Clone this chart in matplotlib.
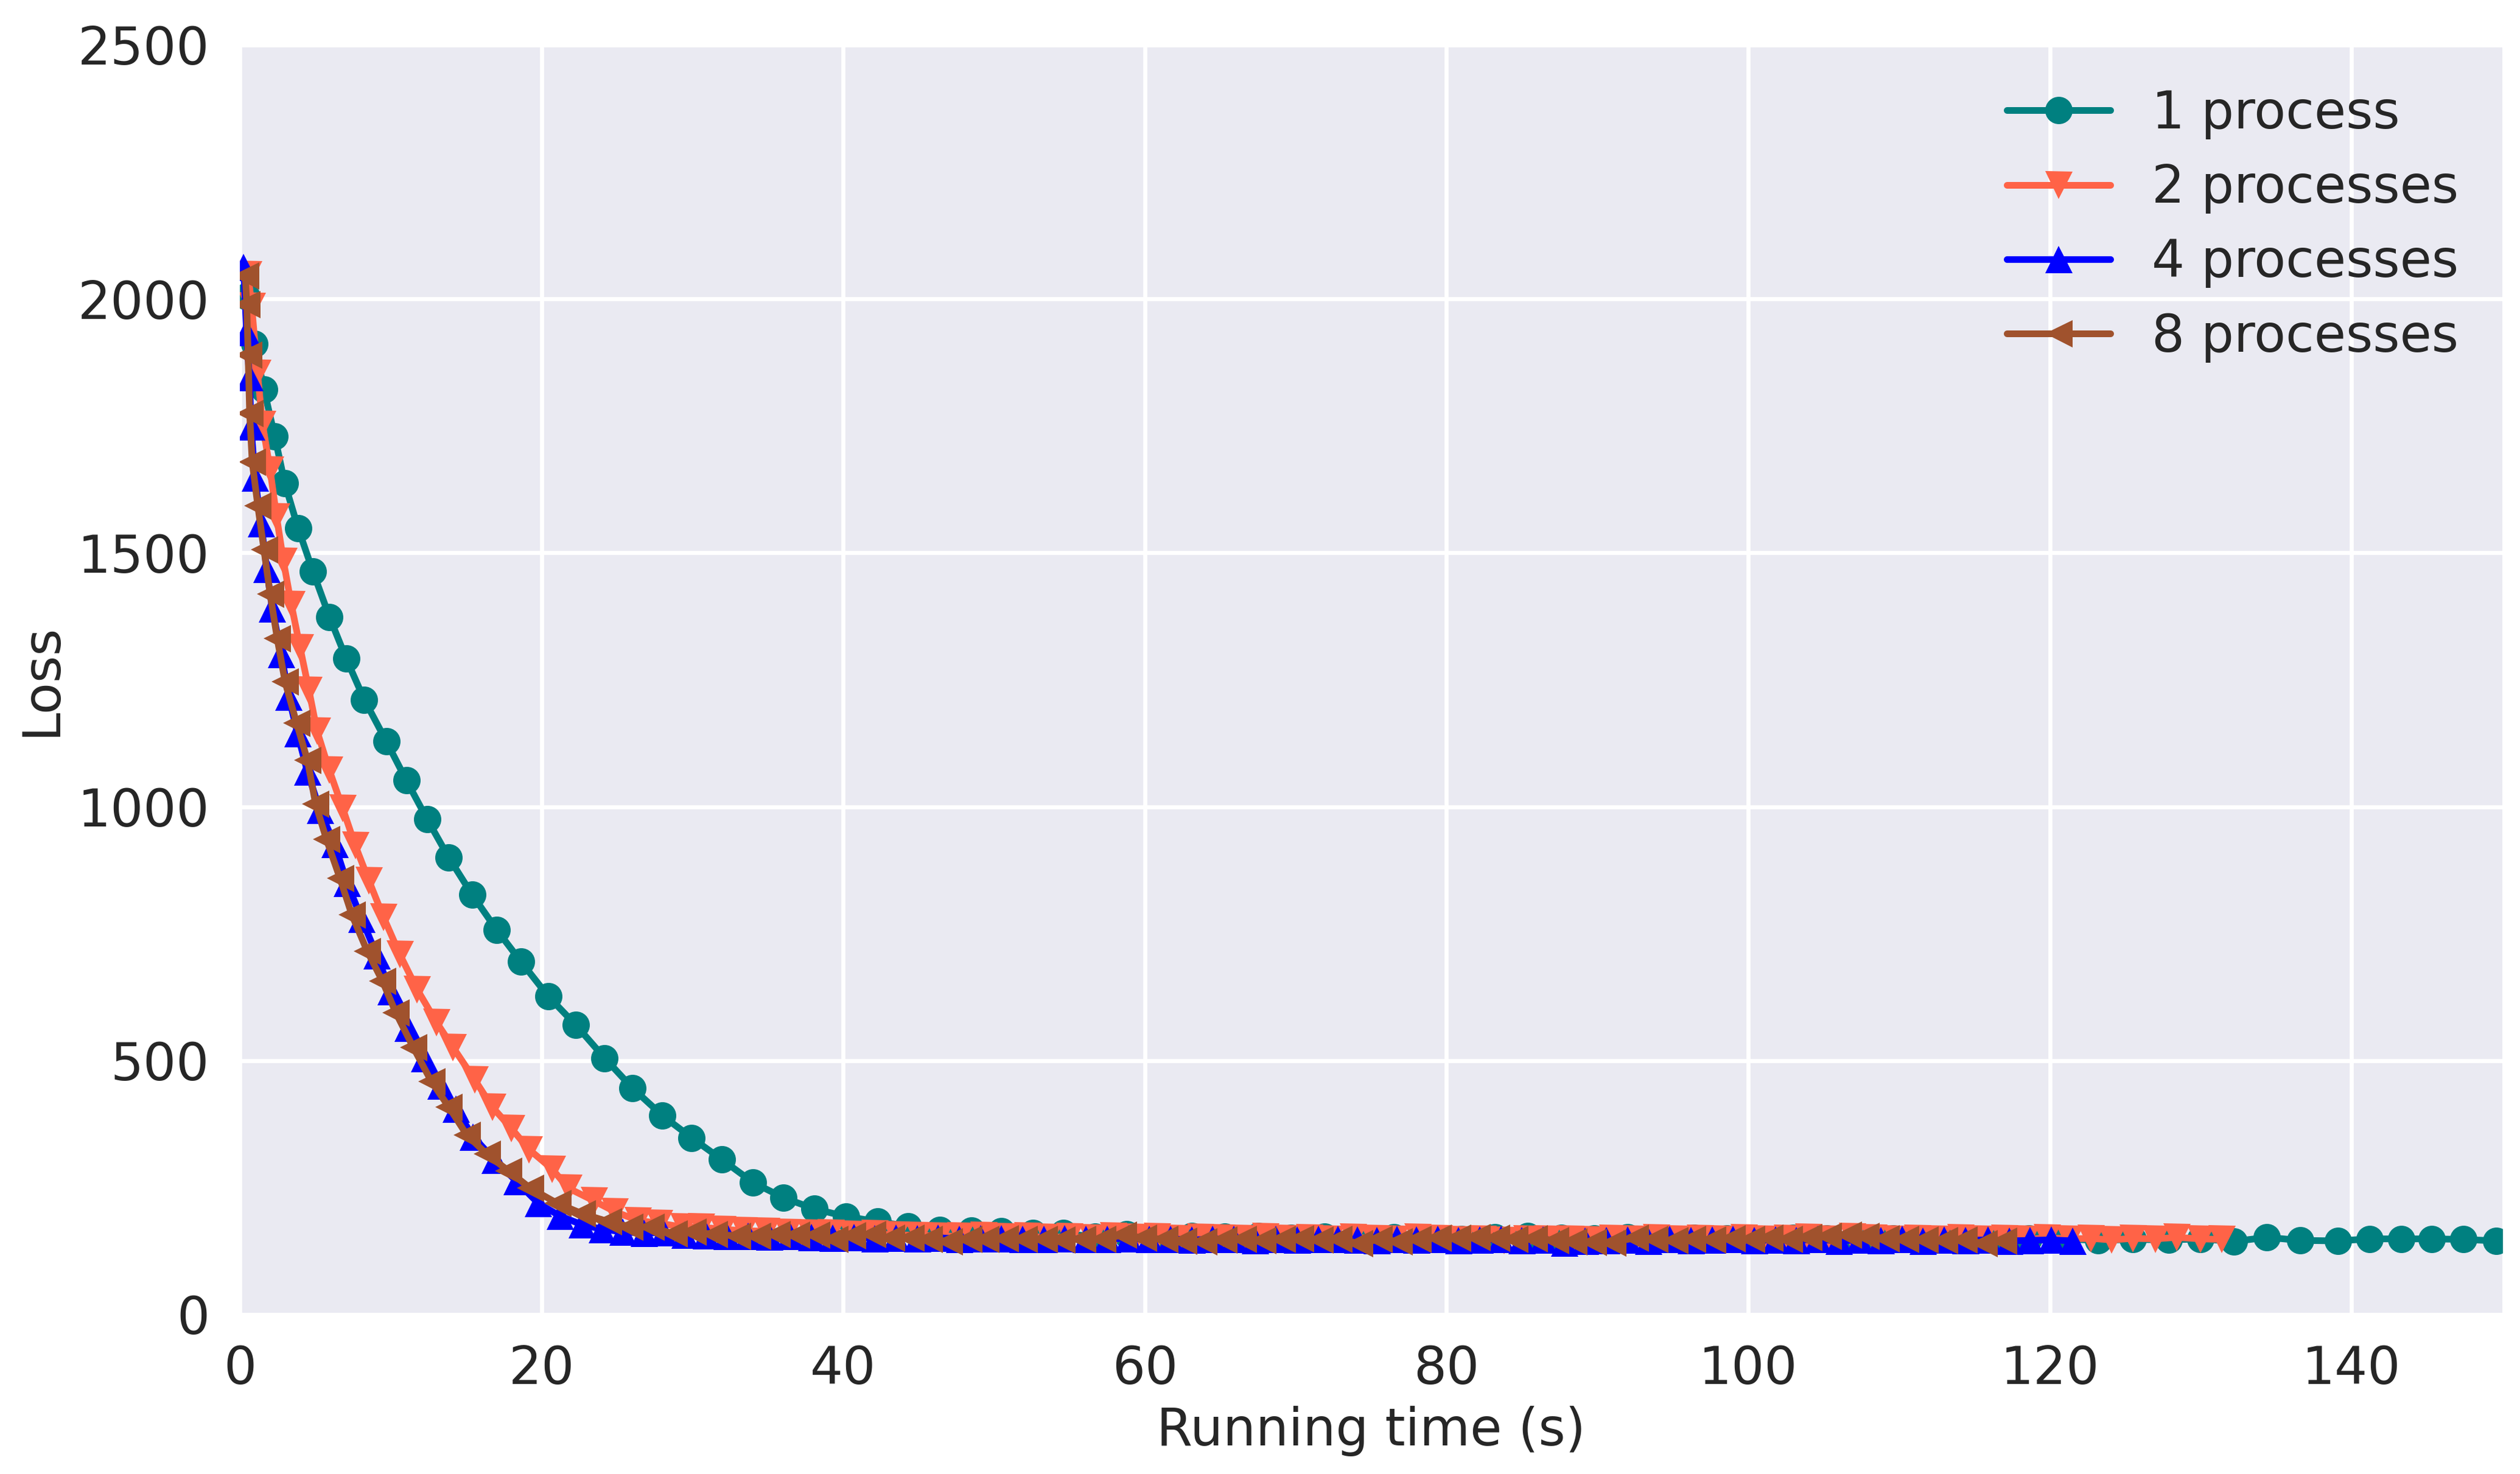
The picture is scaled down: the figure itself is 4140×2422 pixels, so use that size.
import numpy as np
import matplotlib
matplotlib.use("Agg")
import matplotlib.pyplot as plt

# 1 process
t1 = [0.45, 0.98, 1.60, 2.32, 2.98, 3.86, 4.85, 5.94, 7.05, 8.25,
      9.71, 11.04, 12.41, 13.85, 15.40, 17.02, 18.64, 20.44, 22.28, 24.19,
      26.03, 28.01, 29.96, 31.97, 34.03, 36.05, 38.10, 40.20, 42.30, 44.30,
      46.40, 48.50, 50.50, 52.60, 54.60,
      56.70, 58.80, 60.90, 63.10, 65.30, 67.50, 69.70, 71.90, 74.20, 76.50,
      78.70, 81.00, 83.20, 85.40, 87.60, 89.80, 92.00, 94.20, 96.40, 98.60,
      100.8, 103.0, 105.2, 107.4, 109.6, 111.8, 114.0, 116.3, 118.6, 120.9,
      123.2, 125.5, 127.9, 130.0, 132.2, 134.4, 136.6, 139.1, 141.2, 143.3,
      145.3, 147.4, 149.6]
loss1 = [2005, 1911, 1822, 1729, 1637, 1549, 1463, 1374, 1292, 1211,
         1129, 1052, 976, 900, 827, 758, 695, 627, 570, 505,
         446, 392, 348, 305, 260, 230, 208, 193, 183, 174,
         166, 165, 164, 160, 160,
         153, 158, 152, 155, 153, 154, 151, 153, 149, 152,
         150, 149, 152, 155, 151, 150, 152, 148, 151, 150,
         149, 151, 150, 148, 150, 149, 151, 148, 150, 149,
         146, 148, 147, 149, 144, 152, 146, 145, 149, 149,
         149, 148, 145]

# 2 processes
t2 = [0.55, 0.79, 1.17, 1.51, 2.01, 2.44, 2.89, 3.41, 3.99, 4.58,
      5.12, 5.92, 6.82, 7.65, 8.55, 9.52, 10.61, 11.76, 13.05, 14.14,
      15.58, 16.73, 17.99, 19.18, 20.69, 21.78, 23.47, 24.84, 26.40, 27.80,
      29.40, 30.60,
      32.0, 33.4, 34.9, 36.3, 37.8, 39.2, 40.6, 42.1, 43.5, 45.0,
      46.4, 47.8, 49.3, 50.7, 52.2, 53.6, 55.0, 56.5, 57.9, 59.4,
      60.8, 62.2, 63.7, 65.1, 66.6, 68.0, 69.4, 70.9, 72.3, 73.8,
      75.2, 76.6, 78.1, 79.5, 81.0, 82.4, 83.8, 85.3, 86.7, 88.2,
      89.6, 91.0, 92.5, 93.9, 95.4, 96.8, 98.2, 99.7, 101.1, 102.6,
      104.0, 105.4, 106.9, 108.3, 109.8, 111.2, 112.6, 114.1, 115.5, 117.0,
      118.4, 119.8, 121.3, 122.7, 124.1, 125.5, 127.0, 128.4, 130.0, 131.4]
loss2 = [2048, 1986, 1854, 1753, 1663, 1571, 1484, 1399, 1314, 1230,
         1149, 1073, 997, 924, 855, 783, 709, 640, 575, 526,
         462, 409, 367, 325, 287, 249, 224, 203, 185, 180,
         172, 172,
         168, 165, 164, 162, 161, 160, 158, 159, 157, 156,
         155, 154, 156, 153, 154, 152, 153, 151, 154, 152,
         153, 150, 152, 151, 150, 153, 150, 151, 149, 152,
         150, 148, 152, 150, 147, 149, 146, 148, 149, 148,
         147, 150, 149, 151, 148, 150, 149, 151, 148, 150,
         152, 149, 153, 151, 149, 150, 148, 151, 149, 150,
         148, 151, 149, 150, 147, 150, 149, 152, 149, 148]

# 4 processes
t4 = [0.25, 0.45, 0.63, 0.75, 1.00, 1.41, 1.78, 2.15, 2.75, 3.24,
      3.83, 4.48, 5.31, 6.28, 7.11, 8.08, 9.09, 9.99, 11.14, 12.23,
      13.31, 14.32, 15.47, 16.91, 18.35, 19.79, 21.23, 22.68, 24.0, 25.4,
      26.8, 28.1, 29.5,
      30.9, 32.3, 33.7, 35.1, 36.5, 37.9, 39.3, 40.7, 42.1, 43.5,
      44.9, 46.3, 47.7, 49.1, 50.5, 51.9, 53.3, 54.7, 56.1, 57.5,
      58.9, 60.3, 61.7, 63.1, 64.5, 65.9, 67.3, 68.7, 70.1, 71.5,
      72.8, 74.1, 75.4, 76.7, 78.0, 79.4, 80.8, 82.2, 83.6, 85.0,
      86.4, 87.8, 89.2, 90.6, 92.0, 93.4, 94.8, 96.2, 97.6, 99.0,
      100.4, 101.8, 103.2, 104.6, 106.0, 107.4, 108.8, 110.2, 111.6, 113.0,
      114.4, 115.9, 117.3, 118.7, 120.1, 121.5]
loss4 = [2062, 1934, 1846, 1749, 1648, 1558, 1468, 1390, 1300, 1217,
         1144, 1069, 993, 926, 850, 779, 707, 636, 564, 505,
         451, 405, 350, 304, 262, 219, 194, 177, 168, 163,
         160, 162, 157,
         156, 155, 154, 153, 154, 152, 151, 152, 150, 151,
         150, 151, 149, 150, 150, 148, 149, 150, 148, 149,
         150, 148, 149, 147, 148, 149, 146, 148, 147, 149,
         148, 147, 146, 148, 147, 149, 146, 147, 148, 146,
         147, 141, 145, 146, 147, 145, 148, 146, 147, 148,
         146, 147, 146, 148, 145, 147, 146, 148, 145, 147,
         146, 147, 145, 146, 147, 145]

# 8 processes
t8 = [0.36, 0.46, 0.55, 0.65, 0.82, 1.19, 1.60, 2.01, 2.48, 3.00,
      3.76, 4.48, 5.02, 5.74, 6.64, 7.43, 8.44, 9.45, 10.35, 11.50,
      12.70, 13.85, 15.04, 16.37, 17.81, 19.25, 21.05, 22.68, 24.42, 25.84,
      27.25, 28.79, 30.04, 31.42, 32.96, 34.31, 35.61, 36.89, 38.21, 39.42,
      40.61, 41.91, 43.19, 44.46, 45.70, 47.02, 48.30, 49.44, 50.72, 51.99,
      53.32, 54.49, 55.87, 57.20, 58.57, 59.88, 61.29, 62.53, 63.87,
      65.2, 66.5, 67.8, 69.1, 70.3, 71.6, 72.85, 74.2, 75.5, 76.85,
      78.1, 79.4, 80.7, 82.0, 83.3, 84.5, 85.8, 87.2, 88.4, 89.7,
      91.0,
      92.5, 93.8, 95.1, 96.3, 97.6, 98.9, 100.2, 101.4, 102.7, 104.0,
      105.3, 106.6, 107.8, 109.1, 110.4, 111.7, 113.0, 114.3, 115.6, 116.9]
loss8 = [2046, 1989, 1890, 1775, 1679, 1593, 1506, 1419, 1331, 1246,
         1165, 1092, 1006, 936, 859, 787, 716, 657, 594, 526,
         459, 409, 354, 316, 283, 249, 219, 199, 183, 173,
         172, 159, 163, 158, 155, 155, 158, 157, 157, 149,
         156, 158, 151, 151, 148, 144, 149, 149, 150, 148,
         149, 147, 149, 148, 157, 151, 148, 145, 144,
         147, 149, 146, 148, 150, 147, 149, 140, 148, 144,
         148, 151, 151, 152, 151, 148, 150, 146, 144, 143,
         142,
         151, 148, 146, 149, 147, 150, 148, 151, 149, 152,
         155, 157, 154, 150, 148, 147, 146, 147, 140, 145]

labels = ["1 process", "2 processes", "4 processes", "8 processes"]
xticks = [0, 20, 40, 60, 80, 100, 120, 140]
yticks = [0, 500, 1000, 1500, 2000, 2500]

plt.rcParams.update({
    "font.family": "DejaVu Sans",
    "font.size": 25.5,
    "axes.facecolor": "#EAEAF2",
    "axes.edgecolor": "white",
    "axes.linewidth": 0,
    "axes.grid": True,
    "axes.axisbelow": True,
    "grid.color": "white",
    "grid.linewidth": 2,
    "xtick.major.size": 0,
    "ytick.major.size": 0,
    "xtick.major.pad": 14.7,
    "ytick.major.pad": 15,
    "text.color": ".15",
    "axes.labelcolor": ".15",
    "xtick.color": ".15",
    "ytick.color": ".15",
    "legend.frameon": False,
    "legend.numpoints": 1,
    "lines.solid_capstyle": "round",
})

fig = plt.figure(figsize=(17.25, 2422 / 240))
ax = fig.add_axes([0.09517, 0.10818, 0.89783, 0.86127])

lw = 3.3
ms = 13.5
ax.plot(t1, loss1, "-o", color="#008080", lw=lw, ms=ms, mew=0, label=labels[0])
ax.plot(t2, loss2, "-v", color="#FF6347", lw=lw, ms=ms, mew=0, label=labels[1])
ax.plot(t4, loss4, "-^", color="#0000FF", lw=lw, ms=ms, mew=0, label=labels[2])
ax.plot(t8, loss8, "-<", color="#A0522D", lw=lw, ms=ms, mew=0, label=labels[3])

ax.set_xlim(0, 150)
ax.set_ylim(0, 2500)
ax.set_xticks(xticks)
ax.set_yticks(yticks)
ax.set_xlabel("Running time (s)", labelpad=5.5)
ax.set_ylabel("Loss", labelpad=5.5)
for s in ax.spines.values():
    s.set_visible(False)

ax.legend(loc="upper right", labelspacing=0.46, borderaxespad=0.45)

fig.savefig("out.png", dpi=240)
